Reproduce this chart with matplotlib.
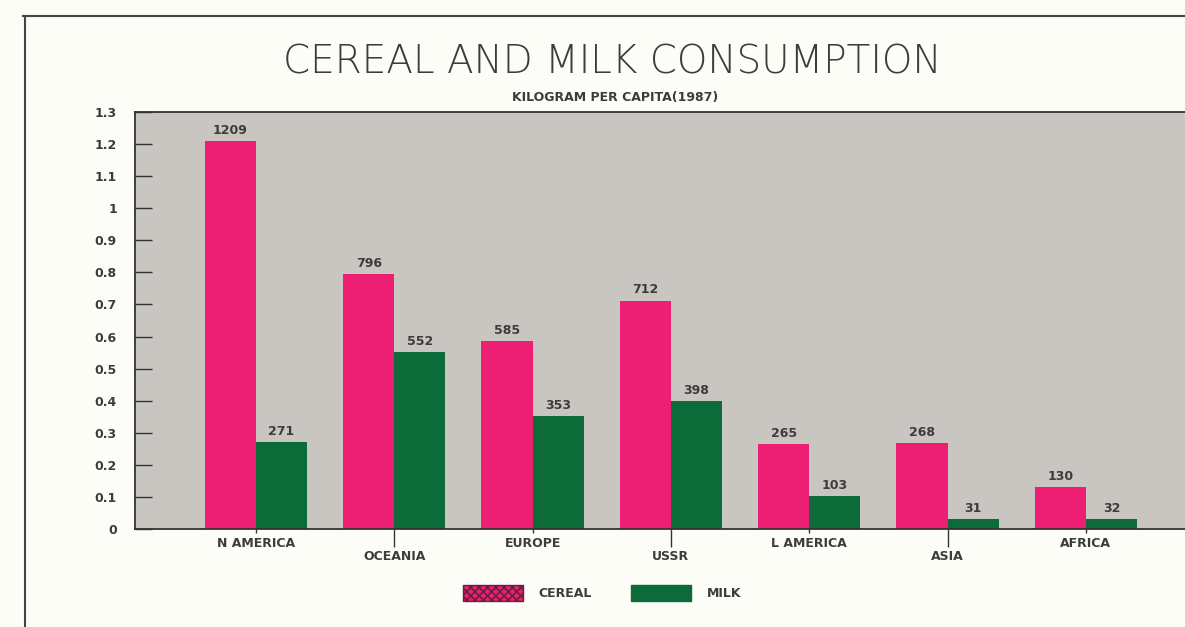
import matplotlib
matplotlib.use("Agg")
import matplotlib.pyplot as plt
from matplotlib.patches import Rectangle
from matplotlib.lines import Line2D
import numpy as np

# data (kg per capita, 1987)
regions = ["N AMERICA", "OCEANIA", "EUROPE", "USSR", "L AMERICA", "ASIA", "AFRICA"]
cereal = [1209, 796, 585, 712, 265, 268, 130]
milk = [271, 552, 353, 398, 103, 31, 32]
yticks = [0, 0.1, 0.2, 0.3, 0.4, 0.5, 0.6, 0.7, 0.8, 0.9, 1, 1.1, 1.2, 1.3]
ytick_labels = ["0", "0.1", "0.2", "0.3", "0.4", "0.5", "0.6", "0.7",
                "0.8", "0.9", "1", "1.1", "1.2", "1.3"]

PINK = "#ec1f72"
GREEN = "#0d6b3a"
GRAY = "#c9c6c2"
PAPER = "#fdfdf8"
INK = "#3c3c3c"

W, H = 1185, 627
fig = plt.figure(figsize=(W / 100, H / 100), dpi=100, facecolor=PAPER)

# axes box in pixel coords of the reference
ax = fig.add_axes([135 / W, 1 - 529 / H, 1 - 135 / W, (529 - 112) / H])
ax.set_facecolor(GRAY)

x = np.arange(len(regions))
bw = 0.37
cer = np.array(cereal) / 1000
mil = np.array(milk) / 1000
b1 = ax.bar(x - bw / 2, cer, bw, color=PINK, linewidth=0)
b2 = ax.bar(x + bw / 2, mil, bw, color=GREEN, linewidth=0)

for rect, v in zip(b1, cereal):
    ax.annotate(str(v), (rect.get_x() + rect.get_width() / 2, rect.get_height()),
                xytext=(0, 3), textcoords="offset points", ha="center", va="bottom",
                fontsize=9, fontweight="bold", color=INK)
for rect, v in zip(b2, milk):
    ax.annotate(str(v), (rect.get_x() + rect.get_width() / 2, rect.get_height()),
                xytext=(0, 3), textcoords="offset points", ha="center", va="bottom",
                fontsize=9, fontweight="bold", color=INK)

ax.set_xlim(-0.875, (W - 256) / 138.3)
ax.set_ylim(0, 1.3)

ax.set_yticks(yticks)
ax.set_yticklabels(ytick_labels)
ax.tick_params(axis="y", direction="in", length=12, width=1, pad=13,
               labelsize=9, labelcolor=INK, color="#333333")
for t in ax.get_yticklabels():
    t.set_fontweight("bold")

# alternate x labels: upper row on major ticks, lower row on long minor ticks
even = x[::2]
odd = x[1::2]
ax.set_xticks(even)
ax.set_xticklabels([regions[i] for i in even])
ax.set_xticks(odd, minor=True)
ax.set_xticklabels([regions[i] for i in odd], minor=True)
ax.tick_params(axis="x", which="major", direction="out", length=3, width=1,
               pad=3, labelsize=9, labelcolor=INK, color="#333333")
ax.tick_params(axis="x", which="minor", direction="out", length=13, width=1,
               pad=2, labelsize=9, labelcolor=INK, color="#333333")
for t in ax.get_xticklabels(which="both"):
    t.set_fontweight("bold")

for side in ["left", "top", "bottom"]:
    ax.spines[side].set_color("#333333")
    ax.spines[side].set_linewidth(1.3)
ax.spines["right"].set_visible(False)

# outer frame of the page
fig.add_artist(Line2D([23 / W, 1], [1 - 16 / H, 1 - 16 / H], color="#444444", lw=1.5))
fig.add_artist(Line2D([25 / W, 25 / W], [1 - 16 / H, 0], color="#444444", lw=1.5))

fig.text(612 / W, 1 - 62 / H, "CEREAL AND MILK CONSUMPTION", ha="center", va="center",
         fontsize=28, fontweight="light", color=INK)
fig.text(615 / W, 1 - 97 / H, "KILOGRAM PER CAPITA(1987)", ha="center", va="center",
         fontsize=9, fontweight="bold", color=INK)

plt.rcParams["hatch.linewidth"] = 1.2
h1 = Rectangle((0, 0), 1, 1, facecolor=PINK, edgecolor="#6b1d3d", hatch="xxxx", lw=1)
h2 = Rectangle((0, 0), 1, 1, facecolor=GREEN, edgecolor=GREEN, lw=1)
leg = fig.legend([h1, h2], ["CEREAL", "MILK"], loc="center",
                 bbox_to_anchor=(602 / W, 1 - 593 / H), ncol=2, frameon=False,
                 handlelength=4.8, handleheight=1.6, handletextpad=1.2,
                 columnspacing=3.2, prop={"size": 9, "weight": "bold"})
for t in leg.get_texts():
    t.set_color(INK)

fig.savefig("out.png", dpi=100, facecolor=PAPER)
